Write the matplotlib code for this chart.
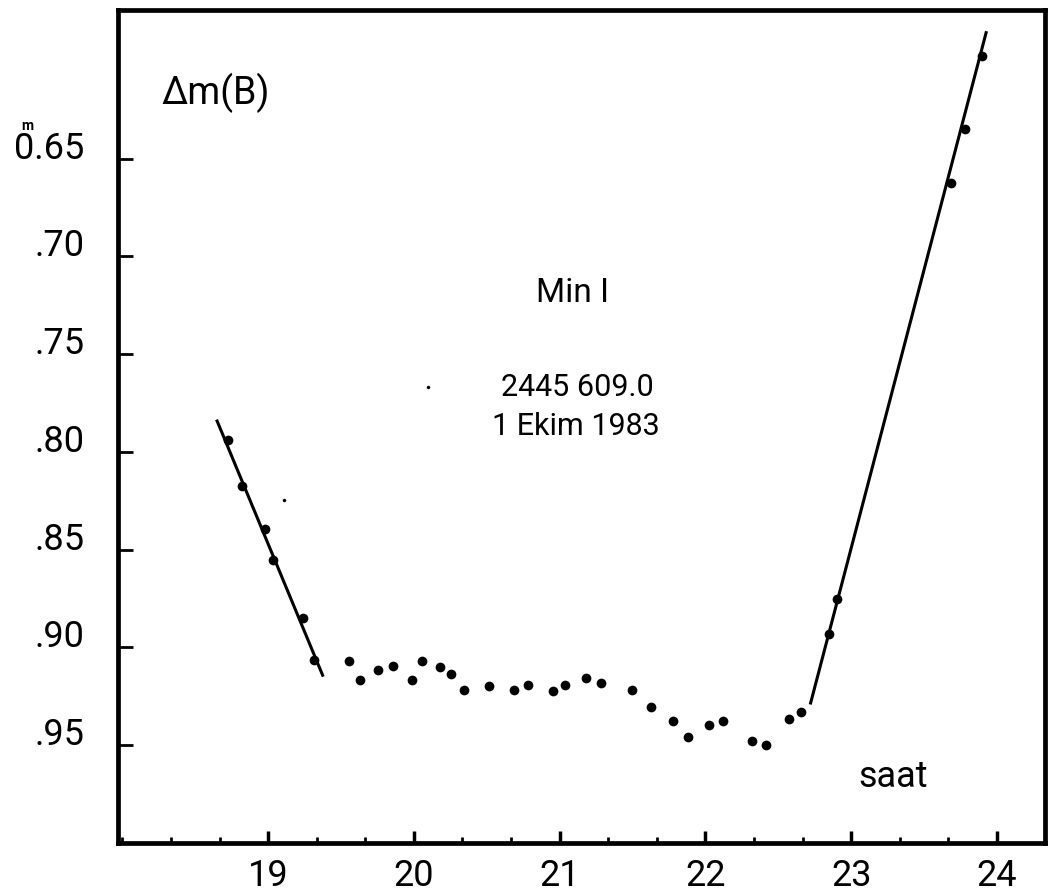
import matplotlib
matplotlib.use("Agg")
import matplotlib.pyplot as plt
from matplotlib.ticker import MultipleLocator, FixedLocator

plt.rcParams['font.family'] = ['Roboto', 'DejaVu Sans']
plt.rcParams['font.weight'] = 'normal'

# ---- data (hours, delta magnitude) ----
desc_x = [18.725, 18.821, 18.981, 19.034, 19.239, 19.312]
desc_y = [0.7939, 0.8174, 0.8395, 0.8555, 0.8847, 0.9062]

flat_x = [19.552, 19.630, 19.751, 19.859, 19.984, 20.058, 20.179, 20.257,
          20.346, 20.512, 20.684, 20.783, 20.956, 21.040, 21.182, 21.285,
          21.496, 21.626, 21.777, 21.880, 22.024, 22.120, 22.319, 22.417,
          22.577, 22.657]
flat_y = [0.9067, 0.9164, 0.9113, 0.9094, 0.9168, 0.9069, 0.9100, 0.9135,
          0.9217, 0.9197, 0.9215, 0.9190, 0.9222, 0.9193, 0.9157, 0.9183,
          0.9220, 0.9306, 0.9376, 0.9456, 0.9398, 0.9374, 0.9480, 0.9500,
          0.9364, 0.9328]

asc_x = [22.847, 22.906, 23.686, 23.782, 23.901]
asc_y = [0.8929, 0.8753, 0.6624, 0.6348, 0.5976]

# fitted straight lines (end points)
fit_desc_x = [18.650, 19.374]
fit_desc_y = [0.7842, 0.9142]
fit_asc_x = [22.722, 23.926]
fit_asc_y = [0.9284, 0.5856]

# stray specks in the original
speck_x = [19.106, 20.099]
speck_y = [0.8246, 0.7667]

ytick_vals = [0.65, 0.70, 0.75, 0.80, 0.85, 0.90, 0.95]
ytick_labels = ["0.65", ".70", ".75", ".80", ".85", ".90", ".95"]
xtick_vals = [19, 20, 21, 22, 23, 24]
xtick_labels = ["19", "20", "21", "22", "23", "24"]

fig = plt.figure(figsize=(10.51, 8.96), dpi=100)
ax = fig.add_axes([118/1051, 53/896, (1045-118)/1051, (843-10)/896])

ax.plot(fit_desc_x, fit_desc_y, color='black', lw=2.2)
ax.plot(fit_asc_x, fit_asc_y, color='black', lw=2.2)
ax.plot(desc_x, desc_y, 'o', color='black', ms=7, mew=0)
ax.plot(flat_x, flat_y, 'o', color='black', ms=7, mew=0)
ax.plot(asc_x, asc_y, 'o', color='black', ms=7, mew=0)
ax.plot(speck_x, speck_y, 'o', color='black', ms=2.5, mew=0)

ax.set_xlim(17.97, 24.33)
ax.set_ylim(1.0, 0.574)

for s in ax.spines.values():
    s.set_linewidth(3.4)
    s.set_color('black')

ax.yaxis.set_major_locator(FixedLocator(ytick_vals))
ax.set_yticklabels(ytick_labels)
ax.xaxis.set_major_locator(FixedLocator(xtick_vals))
ax.set_xticklabels(xtick_labels)
ax.xaxis.set_minor_locator(MultipleLocator(1/3))

ax.tick_params(axis='y', which='major', direction='in', length=11, width=2,
               labelsize=26, pad=24, right=False)
ax.tick_params(axis='x', which='major', direction='in', length=9, width=2.5,
               labelsize=26, pad=11, top=False)
ax.tick_params(axis='x', which='minor', direction='in', length=4.5, width=2,
               top=False)
ax.tick_params(axis='y', which='minor', left=False, right=False)
for lab in ax.get_yticklabels():
    lab.set_va('baseline')

# small magnitude sign above the leading 0
ax.annotate('m', xy=(0, 0.65), xycoords=('axes fraction', 'data'),
            xytext=(-91, 33), textcoords='offset pixels',
            ha='center', va='center', fontsize=10, fontweight='bold')

ax.text(0.105, 0.90, 'Δm(B)', transform=ax.transAxes, fontsize=27,
        ha='center', va='center')
ax.text(21.09, 0.7186, 'Min I', fontsize=24, ha='center', va='center')
ax.text(21.124, 0.7673, '2445 609.0', fontsize=22, ha='center', va='center')
ax.text(21.11, 0.7872, '1 Ekim 1983', fontsize=22, ha='center', va='center')
ax.text(23.288, 0.966, 'saat', fontsize=26, ha='center', va='center')

fig.savefig('out.png', dpi=100, facecolor='white')
